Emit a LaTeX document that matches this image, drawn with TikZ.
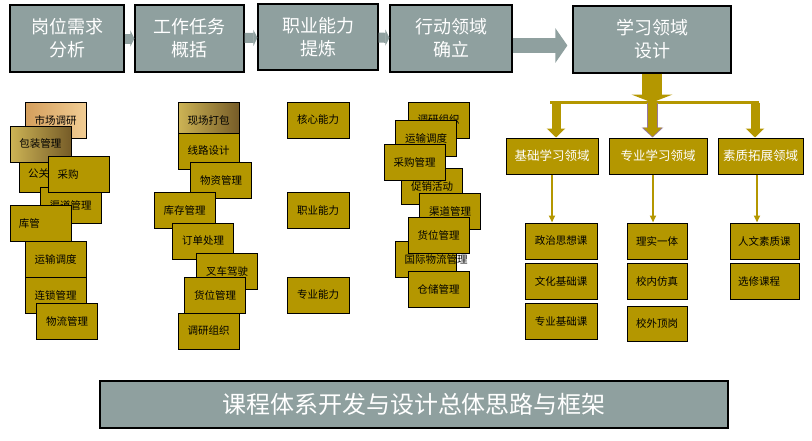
\documentclass[tikz,border=0pt]{standalone}
\usepackage{fontspec}
\setmainfont{Noto Sans CJK SC}
\usetikzlibrary{arrows.meta}
\definecolor{boxgray}{RGB}{143,160,159}
\definecolor{boxgold}{RGB}{180,151,0}
\definecolor{lilac}{RGB}{150,120,160}
\definecolor{tanl}{RGB}{212,158,92}
\definecolor{tanr}{RGB}{241,205,148}
\definecolor{goldl}{RGB}{205,180,85}
\definecolor{goldr}{RGB}{118,92,40}
\begin{document}
\begin{tikzpicture}[x=1pt, y=-1pt,
	stage/.style={draw, line width=1.2pt, fill=boxgray, text=white, align=center, minimum height=67pt, inner sep=0pt, font=\fontsize{18}{23}\selectfont},
	item/.style={draw, line width=1pt, fill=boxgold, minimum width=61pt, minimum height=36pt, inner sep=0pt, font=\fontsize{10.5}{12}\selectfont},
	litem/.style={item, text width=43pt, align=left},
	area/.style={draw, line width=1pt, fill=boxgold, text=white, minimum height=36pt, inner sep=0pt, font=\fontsize{12.5}{14}\selectfont},
	course/.style={item, minimum width=72pt},
	grayarrow/.style={boxgray, line width=10pt, -{Triangle[width=16pt,length=4pt]}},
	goldarrow/.style={boxgold, line width=9pt, -{Triangle[width=18pt,length=9pt]}},
	thinlink/.style={boxgold, line width=2.5pt, -{Triangle[width=6pt,length=7pt]}}]
	\useasboundingbox (0,0) rectangle (812,440);

	\node[stage, minimum width=114pt] (t1) at (67,38.5) {岗位需求\\分析};
	\node[stage, minimum width=109pt] (t2) at (189.5,38.5) {工作任务\\概括};
	\node[stage, minimum width=120pt, minimum height=66pt] (t3) at (318,37) {职业能力\\提炼};
	\node[stage, minimum width=122pt] (t4) at (451,38.5) {行动领域\\确立};
	\node[stage, minimum width=158pt] (t5) at (652,39.5) {学习领域\\设计};
	\draw[grayarrow] (t1) -- (t2);
	\draw[grayarrow] (t2) -- (t3);
	\draw[grayarrow] (t3) -- (t4);
	\draw[boxgray, line width=15pt, -{Triangle[width=34pt,length=12pt]}, shorten >=5pt]
		([yshift=-7pt]t4.east) -- ([yshift=-7pt]t4.east -| t5.west);

	\node[item, left color=tanl, right color=tanr] (m1) at (55.5,120) {市场调研};
	\node[litem] (m3) at (49.5,174) {公关};
	\node[item, left color=goldl, right color=goldr] (m2) at (40.5,144) {包装管理};
	\node[item] (m5) at (70.5,205) {渠道管理};
	\node[litem] (m4) at (79,174.5) {采购};
	\node[litem] (m6) at (40.5,223.5) {库管};
	\node[item] (m7) at (55.5,259) {运输调度};
	\node[item] (m8) at (55.5,295) {连锁管理};
	\node[item] (m9) at (67,321) {物流管理};

	\node[item, left color=goldl, right color=goldr] (w1) at (208.5,120) {现场打包};
	\node[item] (w2) at (208.5,151) {线路设计};
	\node[item] (w3) at (221,180) {物资管理};
	\node[item] (w4) at (184.5,210.5) {库存管理};
	\node[item] (w5) at (203,241) {订单处理};
	\node[item] (w6) at (227,271) {叉车驾驶};
	\node[item] (w7) at (215,295) {货位管理};
	\node[item] (w8) at (208.5,331) {调研组织};

	\node[item, minimum width=62pt] (k1) at (318,120) {核心能力};
	\node[item, minimum width=62pt] (k2) at (318,210.5) {职业能力};
	\node[item, minimum width=62pt] (k3) at (318,295) {专业能力};

	\node[item] (a1) at (438.5,120) {调研组织};
	\node[item] (a2) at (426,138.5) {运输调度};
	\node[item] (a3) at (432,186.5) {促销活动};
	\node[item] (a4) at (414.5,162) {采购管理};
	\node[item] (a5) at (450,211) {渠道管理};
	\node[litem] (a6) at (426,259.5) {国际物流管理};
	\node[item] (a7) at (438.5,235) {货位管理};
	\node[item] (a8) at (438.5,289.5) {仓储管理};

	\node[area, minimum width=92pt] (d1) at (552,156) {基础学习领域};
	\node[area, minimum width=98pt] (d2) at (658,156) {专业学习领域};
	\node[area, minimum width=85pt] (d3) at (760.5,156) {素质拓展领域};

	\coordinate (j1) at (556,102.5);
	\coordinate (j2) at (652.5,102.5);
	\coordinate (j3) at (755,102.5);
	\draw[boxgold, line width=20pt, -{Triangle[width=41pt,length=8pt]}] (t5.south) -- (t5.south |- j2);
	\draw[boxgold, line width=3pt] ([xshift=-6pt]j1) -- ([xshift=4pt]j3);
	\draw[goldarrow] (j1) -- (j1 |- d1.north);
	\draw[lilac, line width=10.5pt, -{Triangle[width=21pt,length=10pt]}] (j2) -- (j2 |- d2.north);
	\draw[goldarrow, shorten >=1pt] (j2) -- (j2 |- d2.north);
	\draw[goldarrow] (j3) -- (j3 |- d3.north);

	\node[course] (c11) at (561,241) {政治思想课};
	\node[course] (c12) at (561,281) {文化基础课};
	\node[course] (c13) at (561,321) {专业基础课};
	\node[item, minimum width=60pt] (c21) at (657,241) {理实一体};
	\node[item, minimum width=60pt] (c22) at (657,281) {校内仿真};
	\node[item, minimum width=60pt, minimum height=35pt] (c23) at (657,323.5) {校外顶岗};
	\node[item, minimum width=69pt, text width=53pt, align=left] (c31) at (764.5,241) {人文素质课};
	\node[item, minimum width=69pt, text width=53pt, align=left] (c32) at (764.5,281) {选修课程};

	\draw[thinlink] (d1.south) -- (d1.south |- c11.north);
	\draw[thinlink] ([xshift=-5pt]d2.south) -- ([xshift=-5pt]d2.south |- c21.north);
	\draw[thinlink] ([xshift=-3.5pt]d3.south) -- ([xshift=-3.5pt]d3.south |- c31.north);

	\node[draw, line width=1.2pt, fill=boxgray, text=white, minimum width=628pt, minimum height=47pt, inner sep=0pt,
		font=\fontsize{24}{28}\selectfont] (title) at (414,404.5) {课程体系开发与设计总体思路与框架};
\end{tikzpicture}
\end{document}
